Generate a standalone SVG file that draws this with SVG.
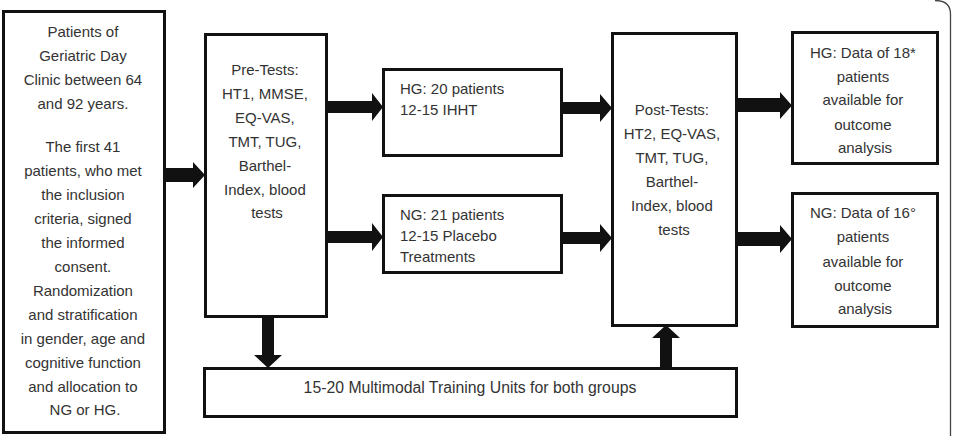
<svg xmlns="http://www.w3.org/2000/svg" width="955" height="436" viewBox="0 0 955 436">
<style>
.box{fill:#fff;stroke:#111;stroke-width:3}
.t{font-family:"Liberation Sans",Arial,sans-serif;font-size:15px;fill:#333}
.c{text-anchor:middle}
.arr{fill:#111}
</style>
<rect width="955" height="436" fill="#fff"/>
<path d="M935,0.5 Q950.5,0.5 950.5,14 L950.5,436" fill="none" stroke="#444" stroke-width="1.3"/>
<g id="connectors">
<polygon class="arr" points="165,168 193,168 193,162 205,175 193,188 193,182 165,182"/>
<polygon class="arr" points="327,101 372,101 372,93 383,107 372,121 372,113 327,113"/>
<polygon class="arr" points="327,231 372,231 372,223 383,237 372,251 372,243 327,243"/>
<polygon class="arr" points="562,102 600,102 600,94 612,108 600,122 600,114 562,114"/>
<polygon class="arr" points="562,232 600,232 600,224 612,238 600,252 600,244 562,244"/>
<polygon class="arr" points="737,98 780,98 780,92 792,105.5 780,119 780,112 737,112"/>
<polygon class="arr" points="737,232 780,232 780,225 792,239 780,253 780,246 737,246"/>
<polygon class="arr" points="262,317 274,317 274,355 282,355 268,368 254,355 262,355"/>
<polygon class="arr" points="660,368 672,368 672,338 680,338 666,325 652,338 660,338"/>
</g>
<g id="patients">
<rect class="box" x="3.5" y="11.5" width="161" height="421"/>
<text class="t c" x="85">
<tspan x="85" y="37">Patients of</tspan>
<tspan x="85" y="61">Geriatric Day</tspan>
<tspan x="85" y="85">Clinic between 64</tspan>
<tspan x="85" y="109">and 92 years.</tspan>
<tspan x="85" y="152">The first 41</tspan>
<tspan x="85" y="176">patients, who met</tspan>
<tspan x="85" y="200">the inclusion</tspan>
<tspan x="85" y="224">criteria, signed</tspan>
<tspan x="85" y="248">the informed</tspan>
<tspan x="85" y="272">consent.</tspan>
<tspan x="85" y="296">Randomization</tspan>
<tspan x="85" y="320">and stratification</tspan>
<tspan x="85" y="344">in gender, age and</tspan>
<tspan x="85" y="368">cognitive function</tspan>
<tspan x="85" y="392">and allocation to</tspan>
<tspan x="85" y="415">NG or HG.</tspan>
</text>
</g>
<g id="pretests">
<rect class="box" x="205.5" y="34.5" width="121" height="282"/>
<text class="t c">
<tspan x="267" y="75">Pre-Tests:</tspan>
<tspan x="267" y="99">HT1, MMSE,</tspan>
<tspan x="267" y="123">EQ-VAS,</tspan>
<tspan x="267" y="147">TMT, TUG,</tspan>
<tspan x="267" y="171">Barthel-</tspan>
<tspan x="267" y="195">Index, blood</tspan>
<tspan x="267" y="218">tests</tspan>
</text>
</g>
<g id="hg">
<rect class="box" x="383.5" y="69.5" width="178" height="86"/>
<text class="t">
<tspan x="400" y="94">HG: 20 patients</tspan>
<tspan x="400" y="115">12-15 IHHT</tspan>
</text>
</g>
<g id="ng">
<rect class="box" x="383.5" y="195.5" width="178" height="77"/>
<text class="t">
<tspan x="400" y="220">NG: 21 patients</tspan>
<tspan x="400" y="241">12-15 Placebo</tspan>
<tspan x="400" y="262">Treatments</tspan>
</text>
</g>
<g id="posttests">
<rect class="box" x="612.5" y="33.5" width="124" height="292"/>
<text class="t c">
<tspan x="674" y="115">Post-Tests:</tspan>
<tspan x="674" y="139">HT2, EQ-VAS,</tspan>
<tspan x="674" y="163">TMT, TUG,</tspan>
<tspan x="674" y="187">Barthel-</tspan>
<tspan x="674" y="211">Index, blood</tspan>
<tspan x="674" y="235">tests</tspan>
</text>
</g>
<g id="hg-outcome">
<rect class="box" x="792.5" y="32.5" width="145" height="131"/>
<text class="t c">
<tspan x="865" y="58">HG: Data of 18*</tspan>
<tspan x="865" y="82">patients</tspan>
<tspan x="865" y="105">available for</tspan>
<tspan x="865" y="130">outcome</tspan>
<tspan x="865" y="153">analysis</tspan>
</text>
</g>
<g id="ng-outcome">
<rect class="box" x="792.5" y="193.5" width="145" height="133"/>
<text class="t c">
<tspan x="865" y="218">NG: Data of 16°</tspan>
<tspan x="865" y="242">patients</tspan>
<tspan x="865" y="267">available for</tspan>
<tspan x="865" y="291">outcome</tspan>
<tspan x="865" y="314">analysis</tspan>
</text>
</g>
<g id="training">
<rect class="box" x="204.5" y="368.5" width="532" height="48"/>
<text class="t c" x="470" y="393" style="font-size:15.8px">15-20 Multimodal Training Units for both groups</text>
</g>
</svg>
